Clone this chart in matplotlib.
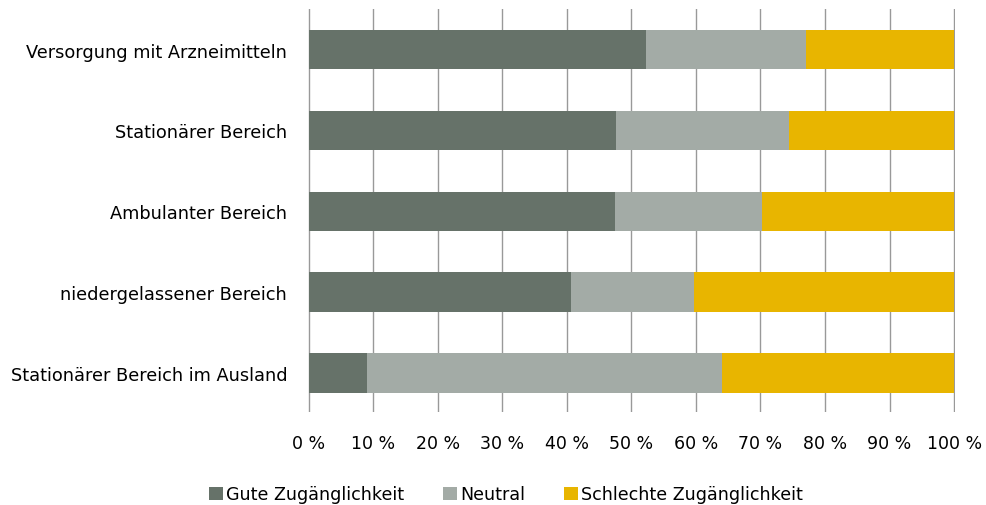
import matplotlib.pyplot as plt
import numpy as np

plt.rcParams['font.family'] = ['DejaVu Sans']

categories = ["Versorgung mit Arzneimitteln", "Stationärer Bereich",
              "Ambulanter Bereich", "niedergelassener Bereich",
              "Stationärer Bereich im Ausland"]
gute = [52.2, 47.6, 47.4, 40.6, 9.1]
neutral = [24.9, 26.9, 22.9, 19.1, 55.0]
schlechte = [100 - g - n for g, n in zip(gute, neutral)]
xticks = list(range(0, 101, 10))

fig = plt.figure(figsize=(9.86, 5.06), dpi=100)
ax = fig.add_axes([0.3124, 0.184, 0.6562, 0.796])

y = np.arange(len(categories))
h = 0.49
ax.barh(y, gute, h, color='#667269', label='Gute Zugänglichkeit', zorder=3)
ax.barh(y, neutral, h, left=gute, color='#a3aba6', label='Neutral', zorder=3)
left2 = [g + n for g, n in zip(gute, neutral)]
ax.barh(y, schlechte, h, left=left2, color='#e8b500',
        label='Schlechte Zugänglichkeit', zorder=3)

ax.set_ylim(4.48, -0.5)
ax.set_xlim(-0.1, 100.15)
ax.set_yticks(y)
ax.set_yticklabels(categories, fontsize=12.8)
ax.set_xticks(xticks)
ax.set_xticklabels([f"{t} %" for t in xticks], fontsize=12.5)
ax.tick_params(axis='both', length=0)
ax.tick_params(axis='x', pad=16)
ax.tick_params(axis='y', pad=15)
ax.grid(axis='x', color='#999999', linewidth=1, zorder=0)
for s in ax.spines.values():
    s.set_visible(False)

ax.legend(loc='center', bbox_to_anchor=(0.306, -0.205), ncol=3,
          frameon=False, fontsize=12.6, handlelength=0.8, handleheight=0.8,
          handletextpad=0.2, columnspacing=2.2, borderpad=0)

plt.savefig('out.png', dpi=100)
